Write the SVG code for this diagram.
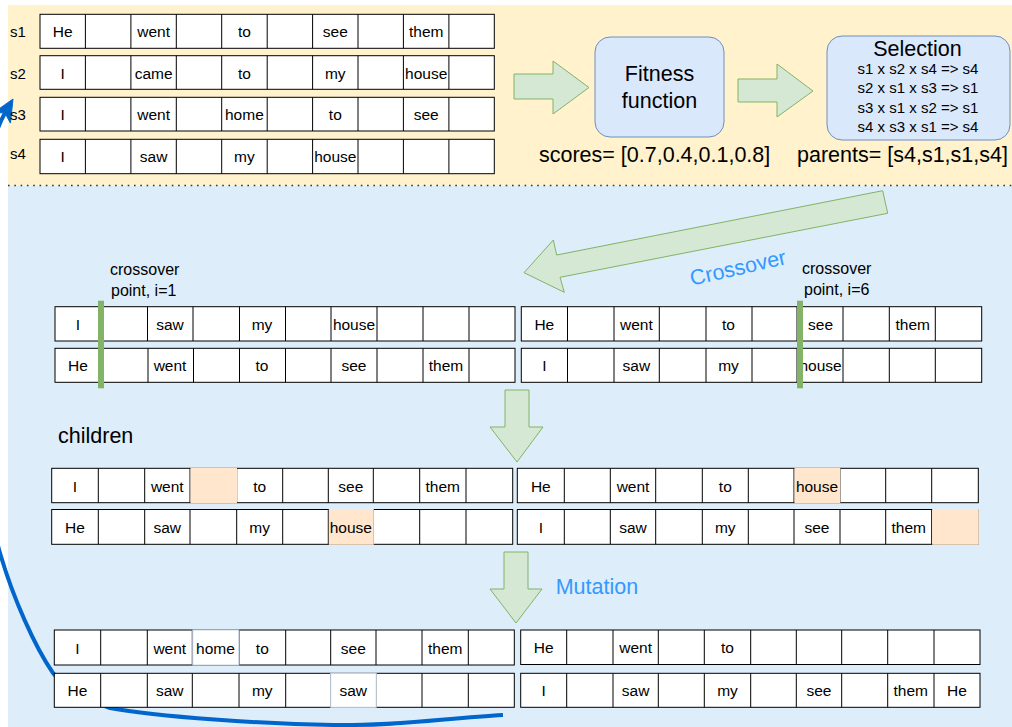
<svg xmlns="http://www.w3.org/2000/svg" width="1012" height="727" viewBox="0 0 1012 727">
<style>
.row{fill:#fff;stroke:#000;stroke-width:1}
.sep{fill:none;stroke:#000;stroke-width:1}
.t{font-family:"Liberation Sans",Arial,sans-serif;font-size:15.5px;fill:#000;text-anchor:middle}
.l{font-family:"Liberation Sans",Arial,sans-serif;font-size:15px;fill:#000}
.m{font-family:"Liberation Sans",Arial,sans-serif;font-size:16px;fill:#000}
.big{font-family:"Liberation Sans",Arial,sans-serif;font-size:21.5px;fill:#000}
.blue{fill:#3399FF}
.blk{fill:#D5E8D4;stroke:#82B366;stroke-width:1}
.proc{fill:#DAE8FC;stroke:#6C8EBF;stroke-width:1}
.org{fill:#FFE6CC;stroke:none}
.wht{fill:#fff;stroke:#C8D6E4;stroke-width:1}
.cut{fill:#82B366}
</style>
<rect x="8" y="5" width="1004" height="181" fill="#FFF2CC"/>
<rect x="8" y="186" width="1004" height="541" fill="#DDEDFA"/>
<line x1="8" y1="185.5" x2="1012" y2="185.5" stroke="#333" stroke-width="1.6" stroke-dasharray="1.6 4.7"/>

<g id="connectors">
<path d="M503 715 C446 718 398 726 333 725 C268 724 157 717 110 708 C90 701 66 690 53 673 C35 647 13 598 0 553 C-13 507 -22 450 -25 400 C-28 350 -26 300 -20 250 C-14 200 -15 148 5 113" fill="none" stroke="#0066CC" stroke-width="4"/>
<polygon points="13,99 10.4,123.1 4.9,112.8 -6.8,112.9" fill="#0066CC" stroke="#0066CC" stroke-width="1"/>
<polygon class="blk" points="514,74 553,74 553,61 589,87.5 553,114 553,99 514,99"/>
<polygon class="blk" points="738,79 777,79 777,64 813,91 777,117 777,102 738,102"/>
<polygon class="blk" points="524,272.7 553.3,240 556.7,255 882.7,190.7 887.7,213.3 560,277.3 564.3,292.3"/>
<polygon class="blk" points="505,390 529,390 529,427 543,427 517,462 490,427 505,427"/>
<polygon class="blk" points="504,552 528,552 528,589 542,589 516,623 490,589 504,589"/>
</g>

<g id="s1">
<text class="l" x="10" y="37">s1</text>
<rect class="row" x="40" y="14.3" width="454.3" height="34"/>
<path class="sep" d="M85.4 14.3v34M130.9 14.3v34M176.3 14.3v34M221.7 14.3v34M267.2 14.3v34M312.6 14.3v34M358 14.3v34M403.4 14.3v34M448.9 14.3v34"/>
<text class="t" y="37.3"><tspan x="62.7">He</tspan><tspan x="153.6">went</tspan><tspan x="244.4">to</tspan><tspan x="335.3">see</tspan><tspan x="426.2">them</tspan></text>
</g>
<g id="s2">
<text class="l" x="10" y="79">s2</text>
<rect class="row" x="40" y="55.7" width="454.3" height="33.6"/>
<path class="sep" d="M85.4 55.7v33.6M130.9 55.7v33.6M176.3 55.7v33.6M221.7 55.7v33.6M267.2 55.7v33.6M312.6 55.7v33.6M358 55.7v33.6M403.4 55.7v33.6M448.9 55.7v33.6"/>
<text class="t" y="78.5"><tspan x="62.7">I</tspan><tspan x="153.6">came</tspan><tspan x="244.4">to</tspan><tspan x="335.3">my</tspan><tspan x="426.2">house</tspan></text>
</g>
<g id="s3">
<text class="l" x="10" y="120">s3</text>
<rect class="row" x="40" y="97.3" width="454.3" height="33.7"/>
<path class="sep" d="M85.4 97.3v33.7M130.9 97.3v33.7M176.3 97.3v33.7M221.7 97.3v33.7M267.2 97.3v33.7M312.6 97.3v33.7M358 97.3v33.7M403.4 97.3v33.7M448.9 97.3v33.7"/>
<text class="t" y="119.7"><tspan x="62.7">I</tspan><tspan x="153.6">went</tspan><tspan x="244.4">home</tspan><tspan x="335.3">to</tspan><tspan x="426.2">see</tspan></text>
</g>
<g id="s4">
<text class="l" x="10" y="159">s4</text>
<rect class="row" x="40" y="139.3" width="454.3" height="34.4"/>
<path class="sep" d="M85.4 139.3v34.4M130.9 139.3v34.4M176.3 139.3v34.4M221.7 139.3v34.4M267.2 139.3v34.4M312.6 139.3v34.4M358 139.3v34.4M403.4 139.3v34.4M448.9 139.3v34.4"/>
<text class="t" y="162"><tspan x="62.7">I</tspan><tspan x="153.6">saw</tspan><tspan x="244.4">my</tspan><tspan x="335.3">house</tspan></text>
</g>

<g id="fitness">
<rect class="proc" x="595" y="37" width="129" height="100" rx="15"/>
<text class="big" x="659.5" y="81" text-anchor="middle">Fitness</text>
<text class="big" x="659.5" y="107.5" text-anchor="middle">function</text>
</g>
<g id="selection">
<rect class="proc" x="827" y="36" width="183" height="104" rx="15"/>
<text class="big" x="917.5" y="56" text-anchor="middle">Selection</text>
<text class="l" x="918" text-anchor="middle"><tspan x="918" y="74">s1 x s2 x s4 =&gt; s4</tspan><tspan x="918" y="93">s2 x s1 x s3 =&gt; s1</tspan><tspan x="918" y="112.5">s3 x s1 x s2 =&gt; s1</tspan><tspan x="918" y="131.5">s4 x s3 x s1 =&gt; s4</tspan></text>
</g>
<text id="scores" class="big" x="539" y="162">scores= [0.7,0.4,0.1,0.8]</text>
<text id="parents" class="big" x="797" y="162">parents= [s4,s1,s1,s4]</text>

<text class="big blue" x="738" y="275" text-anchor="middle" transform="rotate(-13 738 268)">Crossover</text>

<g id="cross-left-a">
<rect class="row" x="55" y="306.7" width="460" height="34.3"/>
<path class="sep" d="M101 306.7v34.3M147.5 306.7v34.3M193 306.7v34.3M239.5 306.7v34.3M285.5 306.7v34.3M331 306.7v34.3M377 306.7v34.3M423 306.7v34.3M469 306.7v34.3"/>
<text class="t" y="329.8"><tspan x="78">I</tspan><tspan x="170">saw</tspan><tspan x="262">my</tspan><tspan x="354">house</tspan></text>
</g>
<g id="cross-left-b">
<rect class="row" x="55" y="348.3" width="460" height="34"/>
<path class="sep" d="M101 348.3v34M148 348.3v34M193.5 348.3v34M239.5 348.3v34M285.5 348.3v34M331 348.3v34M377 348.3v34M423 348.3v34M469 348.3v34"/>
<text class="t" y="371.3"><tspan x="78">He</tspan><tspan x="170">went</tspan><tspan x="262">to</tspan><tspan x="354">see</tspan><tspan x="446">them</tspan></text>
</g>
<g id="cross-right-a">
<rect class="row" x="521.3" y="306.7" width="460.4" height="34.3"/>
<path class="sep" d="M567.5 306.7v34.3M614 306.7v34.3M659.3 306.7v34.3M706 306.7v34.3M752 306.7v34.3M797 306.7v34.3M843 306.7v34.3M889.3 306.7v34.3M935.3 306.7v34.3"/>
<text class="t" y="329.8"><tspan x="544.3">He</tspan><tspan x="636.4">went</tspan><tspan x="728.5">to</tspan><tspan x="820.6">see</tspan><tspan x="912.7">them</tspan></text>
</g>
<g id="cross-right-b">
<rect class="row" x="521.3" y="348.3" width="460.4" height="34"/>
<path class="sep" d="M567.5 348.3v34M614 348.3v34M659.3 348.3v34M706 348.3v34M752 348.3v34M797 348.3v34M843 348.3v34M889.3 348.3v34M935.3 348.3v34"/>
<text class="t" y="371.3"><tspan x="544.3">I</tspan><tspan x="636.4">saw</tspan><tspan x="728.5">my</tspan><tspan x="820.6">house</tspan></text>
</g>
<g id="cut-left">
<rect class="cut" x="98" y="300.7" width="6" height="87.6"/>
<text class="m"><tspan x="110" y="275">crossover</tspan><tspan x="111" y="296">point, i=1</tspan></text>
</g>
<g id="cut-right">
<rect class="cut" x="797" y="300.7" width="6" height="87.6"/>
<text class="m"><tspan x="802" y="273.5">crossover</tspan><tspan x="804" y="294.5">point, i=6</tspan></text>
</g>

<text id="children" class="big" x="58" y="442.7">children</text>

<g id="child-left-a">
<rect class="row" x="51.7" y="468.3" width="461" height="34.4"/>
<path class="sep" d="M98.3 468.3v34.4M144.7 468.3v34.4M190 468.3v34.4M236.7 468.3v34.4M282.7 468.3v34.4M328.3 468.3v34.4M373.3 468.3v34.4M419.7 468.3v34.4M466 468.3v34.4"/>
<rect class="org" x="190.5" y="467.8" width="46.5" height="35.4"/>
<text class="t" y="491.5"><tspan x="75">I</tspan><tspan x="167.3">went</tspan><tspan x="259.7">to</tspan><tspan x="350.8">see</tspan><tspan x="442.8">them</tspan></text>
</g>
<g id="child-left-b">
<rect class="row" x="51.7" y="509.5" width="461" height="34.8"/>
<path class="sep" d="M98.3 509.5v34.8M144.7 509.5v34.8M190 509.5v34.8M236.7 509.5v34.8M282.7 509.5v34.8M328.3 509.5v34.8M373.3 509.5v34.8M419.7 509.5v34.8M466 509.5v34.8"/>
<rect class="org" x="328.8" y="509" width="45" height="35.8"/>
<text class="t" y="532.8"><tspan x="75">He</tspan><tspan x="167.3">saw</tspan><tspan x="259.7">my</tspan><tspan x="350.8">house</tspan></text>
</g>
<g id="child-right-a">
<rect class="row" x="517.3" y="468.3" width="461" height="34.4"/>
<path class="sep" d="M564.3 468.3v34.4M610.3 468.3v34.4M655.7 468.3v34.4M702.3 468.3v34.4M748.3 468.3v34.4M794 468.3v34.4M840 468.3v34.4M885.7 468.3v34.4M931.7 468.3v34.4"/>
<rect class="org" x="794.5" y="467.8" width="45.8" height="35.4"/>
<text class="t" y="491.5"><tspan x="540.8">He</tspan><tspan x="633">went</tspan><tspan x="725.3">to</tspan><tspan x="817">house</tspan></text>
</g>
<g id="child-right-b">
<rect class="row" x="517.3" y="509.5" width="461" height="34.8"/>
<path class="sep" d="M564.3 509.5v34.8M610.3 509.5v34.8M655.7 509.5v34.8M702.3 509.5v34.8M748.3 509.5v34.8M794 509.5v34.8M840 509.5v34.8M885.7 509.5v34.8M931.7 509.5v34.8"/>
<rect class="org" x="932.2" y="509" width="46.6" height="35.8"/>
<text class="t" y="532.8"><tspan x="540.8">I</tspan><tspan x="633">saw</tspan><tspan x="725.3">my</tspan><tspan x="817">see</tspan><tspan x="908.7">them</tspan></text>
</g>

<text id="mutation" class="big blue" x="555.7" y="594.3">Mutation</text>

<g id="mut-left-a">
<rect class="row" x="54.3" y="630" width="460" height="35"/>
<path class="sep" d="M100.7 630v35M147.3 630v35M192.3 630v35M239 630v35M285.7 630v35M330.7 630v35M376 630v35M422 630v35M468.3 630v35"/>
<rect class="wht" x="192.8" y="630" width="46" height="35"/>
<text class="t" y="653.5"><tspan x="77.5">I</tspan><tspan x="169.8">went</tspan><tspan x="215.5">home</tspan><tspan x="262.3">to</tspan><tspan x="353.3">see</tspan><tspan x="445.2">them</tspan></text>
</g>
<g id="mut-left-b">
<rect class="row" x="54.3" y="673.3" width="460" height="34"/>
<path class="sep" d="M100.7 673.3v34M147.3 673.3v34M192.3 673.3v34M239 673.3v34M285.7 673.3v34M330.7 673.3v34M376 673.3v34M422 673.3v34M468.3 673.3v34"/>
<rect class="wht" x="330.7" y="673.3" width="45.5" height="34"/>
<text class="t" y="696.3"><tspan x="77.5">He</tspan><tspan x="169.8">saw</tspan><tspan x="262.3">my</tspan><tspan x="353.3">saw</tspan></text>
</g>
<g id="mut-right-a">
<rect class="row" x="520.7" y="630" width="459.3" height="34.5"/>
<path class="sep" d="M566.7 630v34.5M613 630v34.5M658.3 630v34.5M704.3 630v34.5M750.7 630v34.5M796.3 630v34.5M841.7 630v34.5M887.7 630v34.5M934 630v34.5"/>
<text class="t" y="653.2"><tspan x="543.7">He</tspan><tspan x="635.6">went</tspan><tspan x="727.5">to</tspan></text>
</g>
<g id="mut-right-b">
<rect class="row" x="520.7" y="673.3" width="459.3" height="34"/>
<path class="sep" d="M566.7 673.3v34M613 673.3v34M658.3 673.3v34M704.3 673.3v34M750.7 673.3v34M796.3 673.3v34M841.7 673.3v34M887.7 673.3v34M934 673.3v34"/>
<text class="t" y="696.3"><tspan x="543.7">I</tspan><tspan x="635.6">saw</tspan><tspan x="727.5">my</tspan><tspan x="819">see</tspan><tspan x="910.8">them</tspan><tspan x="957">He</tspan></text>
</g>
</svg>
